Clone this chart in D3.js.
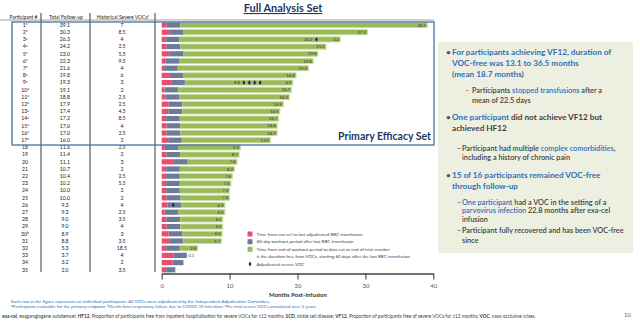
<!DOCTYPE html>
<html>
<head>
<meta charset="utf-8">
<script src="https://cdn.jsdelivr.net/npm/d3@7"></script>
<style>
  body { margin: 0; background: #fff; }
  svg { display: block; font-family: Lato, "Open Sans", sans-serif; }
</style>
</head>
<body>
<svg id="chart" width="640" height="321"></svg>
<script>
// table + bar data
var participants = ["1","2","3","4","5","6","7","8","9","10","11","12","13","14","15","16","17","18","19","20","21","22","23","24","25","26","27","28","29","30","31","32","33","34","35"];
var footMarks = ["a","a","a","a","a","a","a","a","a","a","a","a","a","a","a","a","a","","","","","","","","","","","","","b","","","","",""];
var followUp = [39.1, 30.3, 26.3, 24.2, 23.0, 22.3, 21.6, 19.8, 19.3, 19.1, 18.8, 17.9, 17.4, 17.2, 17.0, 17.0, 16.0, 11.6, 11.4, 11.1, 10.7, 10.4, 10.2, 10.0, 10.0, 9.3, 9.3, 9.0, 9.0, 8.9, 8.8, 5.3, 3.7, 3.2, 2.0];
var historicalVOCs = ["7","8.5","4","2.5","5.5","9.5","4","6","3","2","2.5","2.5","4.5","8.5","4","2.5","2","2.5","2","3","2","2.5","5.5","2","2","4","2.5","3.5","4","3","3.5","18.5","4","2","3.5"];
// months from infusion to last RBC transfusion (red part)
var lastTransfusion = [0.7, 1.2, 0.6, 0.7, 1.2, 0.6, 0.35, 1.2, 1.4, 0.4, 0.6, 1.0, 1.0, 0.65, 0.7, 0.7, 0.95, 0.45, 0.7, 1.8, 0.65, 0.65, 0.65, 0.65, 0.75, 0.85, 0.45, 0.7, 0.7, 1.0, 1.1, 0.65, 1.7, 1.6, 0.65];
var washout = 2;
// number printed at the end of each green bar
var vocFreeLabels = ["36.5","27.2","3.2","21.5","19.8","19.8","19.3","16.8","4.9","16.7","16.1","14.9","14.5","14.7","14.6","14.7","13.1","9.2","8.7","7.4","8.2","7.8","7.6","7.3","7.4","6.9","6.5","6.1","6.5","6.0","5.7","2.8","0.1","",""];
// green stretch printed before a VOC interrupted it
var splitIds = ["3", "9"];
var splitAt = [22.8, 12.1];
var splitLabels = ["20.2", "8.8"];
// adjudicated severe VOCs (participant, month)
var vocIds = ["3", "9", "9", "9", "9", "26"];
var vocMonths = [22.8, 12.1, 12.9, 13.7, 14.5, 1.7];
var xTicks = [0, 10, 20, 30, 40];

var legendLabels = [
  ["Time from exa-cel to last adjudicated RBC transfusion"],
  ["60-day washout period after last RBC transfusion"],
  ["Time from end of washout period to data cut or end of trial; number", "is the duration free from VOCs, starting 60 days after the last RBC transfusion"],
  ["Adjudicated severe VOC"]
];

var RED = "#e84d6b", GRAY = "#6c7b99", GREEN = "#9bbb59", NAVY = "#1f2a5c";
var BLUE = "#2f6fba", DARK = "#404040", TITLE = "#1f3864";

var svg = d3.select("#chart");

var x = d3.scaleLinear().domain([0, 40]).range([161.7, 433.3]);
var y = d3.scaleBand().domain(participants).range([21.4, 273.4]).paddingInner(0.28).paddingOuter(0.14);
var yc = function(id) { return y(id) + y.bandwidth() / 2; };

var rows = participants.map(function(id, i) {
  var t = lastTransfusion[i], total = followUp[i];
  return { id: id, i: i, t: t, w: Math.min(t + washout, total), total: total };
});

// title
svg.append("text").attr("x", 283).attr("y", 12).attr("text-anchor", "middle")
  .attr("font-size", 11).attr("font-weight", 700).attr("fill", TITLE)
  .attr("text-decoration", "underline").text("Full Analysis Set");

// table frame
svg.append("line").attr("x1", 0).attr("x2", 434).attr("y1", 20).attr("y2", 20)
  .attr("stroke", "#8a8a8a").attr("stroke-width", 0.8);
[41, 90, 155].forEach(function(cx) {
  svg.append("line").attr("x1", cx).attr("x2", cx).attr("y1", 13).attr("y2", 272)
    .attr("stroke", "#5a5a5a").attr("stroke-width", 1.2);
});

// header
var hdr = svg.append("g").attr("font-size", 5).attr("fill", "#222").attr("text-anchor", "middle");
hdr.append("text").attr("x", 23.5).attr("y", 18.5).text("Participant #");
hdr.append("text").attr("x", 66).attr("y", 18.5).text("Total Follow-up");
var h3 = hdr.append("text").attr("x", 123).attr("y", 18.5).text("Historical Severe VOCs");
h3.append("tspan").attr("font-size", 3.3).attr("dy", -1.6).text("c");

// table body
var body = svg.append("g").attr("font-size", 5.2).attr("fill", "#222").attr("text-anchor", "middle");
var pid = body.selectAll(".pid").data(rows).enter().append("text")
  .attr("x", 25).attr("y", function(d) { return yc(d.id) + 1.8; });
pid.append("tspan").text(function(d) { return d.id; });
pid.append("tspan").attr("font-size", 3.3).attr("dy", -1.6).text(function(d) { return footMarks[d.i]; });
body.selectAll(".fu").data(rows).enter().append("text")
  .attr("x", 65).attr("y", function(d) { return yc(d.id) + 1.8; })
  .text(function(d) { return d3.format(".1f")(d.total); });
body.selectAll(".hv").data(rows).enter().append("text")
  .attr("x", 122).attr("y", function(d) { return yc(d.id) + 1.8; })
  .text(function(d) { return historicalVOCs[d.i]; });

// bars
var bars = svg.append("g");
bars.selectAll(".green").data(rows.filter(function(d) { return d.total > d.w; })).enter().append("rect")
  .attr("x", function(d) { return x(d.w); }).attr("y", function(d) { return y(d.id); })
  .attr("width", function(d) { return x(d.total) - x(d.w); }).attr("height", y.bandwidth())
  .attr("fill", GREEN).attr("stroke", "#c9dca4").attr("stroke-width", 0.8);
bars.selectAll(".gray").data(rows).enter().append("rect")
  .attr("x", function(d) { return x(d.t); }).attr("y", function(d) { return y(d.id); })
  .attr("width", function(d) { return x(d.w) - x(d.t); }).attr("height", y.bandwidth())
  .attr("fill", GRAY);
bars.selectAll(".red").data(rows).enter().append("rect")
  .attr("x", x(0)).attr("y", function(d) { return y(d.id); })
  .attr("width", function(d) { return x(d.t) - x(0); }).attr("height", y.bandwidth())
  .attr("fill", RED);

// bar labels
var lab = svg.append("g").attr("font-size", 4.2).attr("fill", "#333");
lab.selectAll(".end").data(rows.filter(function(d) { return vocFreeLabels[d.i] !== ""; })).enter().append("text")
  .attr("y", function(d) { return yc(d.id) + 1.5; })
  .attr("x", function(d) { return x(d.total) - x(d.w) < 10 ? x(d.total) + 1.5 : x(d.total) - 1.5; })
  .attr("text-anchor", function(d) { return x(d.total) - x(d.w) < 10 ? "start" : "end"; })
  .text(function(d) { return vocFreeLabels[d.i]; });
lab.selectAll(".split").data(splitIds).enter().append("text")
  .attr("y", function(d) { return yc(d) + 1.5; })
  .attr("x", function(d, i) { return x(splitAt[i]) - 4; })
  .attr("text-anchor", "end")
  .text(function(d, i) { return splitLabels[i]; });

// severe VOC markers
var diamond = d3.symbol().type(d3.symbolDiamond).size(7);
svg.selectAll(".voc").data(vocIds).enter().append("path")
  .attr("d", diamond)
  .attr("transform", function(d, i) { return "translate(" + x(vocMonths[i]) + "," + yc(d) + ")"; })
  .attr("fill", NAVY);

// axis
var axis = svg.append("g").attr("transform", "translate(0,273.5)")
  .call(d3.axisBottom(x).tickValues(xTicks).tickSize(6).tickSizeOuter(0).tickPadding(4));
axis.select(".domain").attr("stroke", "#404040").attr("stroke-width", 1.3);
axis.selectAll(".tick line").attr("stroke", "#404040").attr("stroke-width", 1.1);
axis.selectAll(".tick text").attr("font-size", 6).attr("fill", "#555").attr("font-family", "Lato, sans-serif");
svg.append("text").attr("x", 298).attr("y", 296.5).attr("text-anchor", "middle")
  .attr("font-size", 6).attr("font-weight", 700).attr("fill", "#333").text("Months Post-Infusion");

// primary efficacy set box
svg.append("rect").attr("x", 12).attr("y", 22).attr("width", 422).attr("height", 123)
  .attr("fill", "none").attr("stroke", "#4a6ea9").attr("stroke-width", 1.3);
svg.append("text").attr("x", 431).attr("y", 139.5).attr("text-anchor", "end")
  .attr("font-size", 10.5).attr("font-weight", 700).attr("fill", TITLE).text("Primary Efficacy Set");

// legend
var lg = svg.append("g").attr("font-size", 4.5).attr("fill", DARK);
var legY = [234, 241.7, 249.3, 264];
var legFill = [RED, GRAY, GREEN, NAVY];
legendLabels.forEach(function(lines, i) {
  if (i < 3) {
    lg.append("rect").attr("x", 247.5).attr("y", legY[i] - 2.5).attr("width", 5).attr("height", 5).attr("fill", legFill[i]);
  } else {
    lg.append("path").attr("d", diamond).attr("transform", "translate(250," + legY[i] + ")").attr("fill", NAVY);
  }
  lines.forEach(function(s, j) {
    lg.append("text").attr("x", 256.5).attr("y", legY[i] + 1.6 + j * 7.4).text(s);
  });
});

// side panel
svg.append("rect").attr("x", 438).attr("y", 42).attr("width", 195).attr("height", 211).attr("fill", "#edf0e1");

var panel = [
  { b: "•", bx: 446, tx: 452, size: 8.2, bold: true, y: [54.5, 66, 77], lines: [
    [["For participants achieving VF12, duration of", BLUE]],
    [["VOC-free was 13.1 to 36.5 months", BLUE]],
    [["(mean 18.7 months)", BLUE]]] },
  { b: "-", bx: 466, tx: 472, size: 7.3, bold: false, y: [92.5, 102.5], lines: [
    [["Participants ", DARK], ["stopped transfusions", BLUE], [" after a", DARK]],
    [["mean of 22.5 days", DARK]]] },
  { b: "•", bx: 446, tx: 452, size: 8.2, bold: true, y: [119.5, 131], lines: [
    [["One participant", BLUE], [" did not achieve VF12 but", DARK]],
    [["achieved HF12", DARK]]] },
  { b: "–", bx: 457, tx: 462, size: 7.3, bold: false, y: [150.5, 159.5], lines: [
    [["Participant had multiple ", DARK], ["complex comorbidities", BLUE], [",", DARK]],
    [["including a history of chronic pain", DARK]]] },
  { b: "•", bx: 446, tx: 452, size: 8.2, bold: true, y: [178, 189], lines: [
    [["15 of 16 participants remained VOC-free", BLUE]],
    [["through follow-up", BLUE]]] },
  { b: "–", bx: 457, tx: 462, size: 7.3, bold: false, y: [204.5, 213, 221.5], lines: [
    [["One participant", BLUE], [" had a VOC in the setting of a", DARK]],
    [["parvovirus infection", BLUE], [" 22.8 months after exa-cel", DARK]],
    [["infusion", DARK]]] },
  { b: "–", bx: 457, tx: 462, size: 7.3, bold: false, y: [233, 242.5], lines: [
    [["Participant fully recovered and has been VOC-free", DARK]],
    [["since", DARK]]] }
];
var pg = svg.append("g");
panel.forEach(function(p) {
  pg.append("text").attr("x", p.bx).attr("y", p.y[0]).attr("font-size", p.size)
    .attr("fill", "#555").attr("font-weight", p.bold ? 700 : 600).text(p.b);
  p.lines.forEach(function(runs, j) {
    var t = pg.append("text").attr("x", p.tx).attr("y", p.y[j]).attr("font-size", p.size)
      .attr("font-weight", p.bold ? 700 : 600);
    runs.forEach(function(r) {
      t.append("tspan").attr("fill", r[1]).text(r[0]);
    });
  });
});

// footnotes
var fn = svg.append("g").attr("font-size", 4.5);
fn.append("text").attr("x", 11).attr("y", 302.5).attr("fill", BLUE)
  .text("Each row in the figure represents an individual participants. All VOCs were adjudicated by the Independent Adjudication Committee.");
var f2 = fn.append("text").attr("x", 11).attr("y", 308).attr("fill", BLUE);
[["a", "Participants evaluable for the primary endpoint; "], ["b", "Death from respiratory failure due to COVID-19 infection; "], ["c", "Pre-trial severe VOCs annualized over 2 years."]]
  .forEach(function(p) {
    f2.append("tspan").attr("font-size", 3).attr("dy", -1.3).text(p[0]);
    f2.append("tspan").attr("dy", 1.3).text(p[1]);
  });
var f3 = fn.append("text").attr("x", 2).attr("y", 317.5).attr("fill", DARK).attr("font-size", 4.7);
[["exa-cel", ", exagamglogene autotemcel; "], ["HF12", ", Proportion of participants free from inpatient hospitalization for severe VOCs for \u226512 months; "],
 ["SCD", ", sickle cell disease; "], ["VF12", ", Proportion of participants free of severe VOCs for \u226512 months; "], ["VOC", ", vaso-occlusive crises."]]
  .forEach(function(p) {
    f3.append("tspan").attr("font-weight", 700).text(p[0]);
    f3.append("tspan").text(p[1]);
  });
svg.append("text").attr("x", 631).attr("y", 317).attr("text-anchor", "end")
  .attr("font-size", 6).attr("fill", "#666").text("10");
</script>
</body>
</html>
